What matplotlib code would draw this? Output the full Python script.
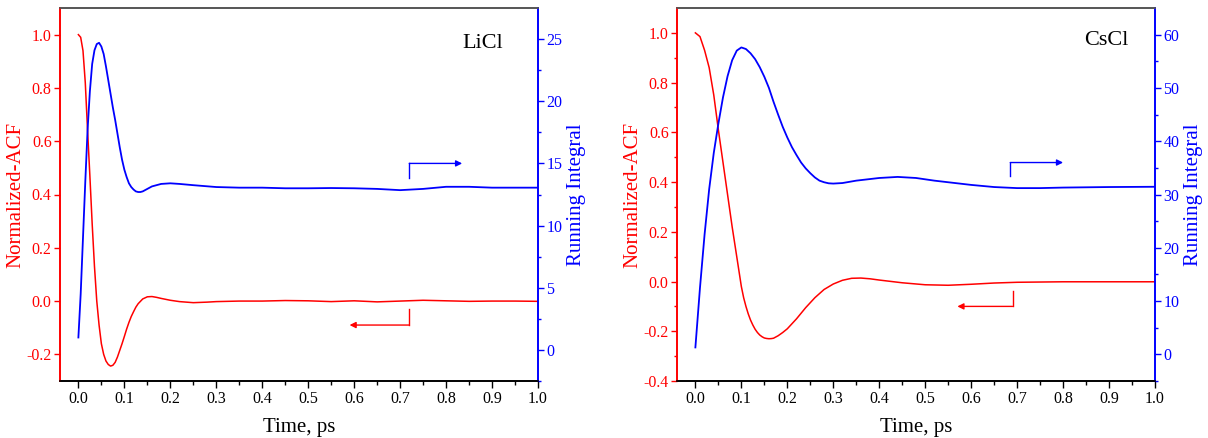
import numpy as np
import matplotlib
matplotlib.use('Agg')
from matplotlib import pyplot as plt

plt.rcParams['font.family'] = ['Liberation Serif', 'DejaVu Serif']

# ---- LiCl data ----
licl_t_acf = [0.000, 0.005, 0.010, 0.015, 0.020, 0.025, 0.030, 0.035, 0.040, 0.045,
              0.050, 0.055, 0.060, 0.065, 0.070, 0.075, 0.080, 0.085, 0.090, 0.095,
              0.100, 0.105, 0.110, 0.115, 0.120, 0.125, 0.130, 0.140, 0.150, 0.160,
              0.170, 0.180, 0.200, 0.220, 0.250, 0.280, 0.300, 0.350, 0.400, 0.450,
              0.500, 0.550, 0.600, 0.650, 0.700, 0.750, 0.800, 0.850, 0.900, 0.950,
              1.000]
licl_acf = [1.00, 0.99, 0.94, 0.82, 0.64, 0.47, 0.29, 0.13, 0.00, -0.09,
            -0.16, -0.20, -0.225, -0.238, -0.244, -0.241, -0.230, -0.21, -0.185, -0.16,
            -0.133, -0.105, -0.08, -0.058, -0.04, -0.023, -0.01, 0.008, 0.016, 0.017,
            0.014, 0.010, 0.003, -0.002, -0.006, -0.004, -0.002, 0.000, 0.000, 0.002,
            0.001, -0.002, 0.001, -0.003, 0.000, 0.003, 0.001, -0.001, 0.000, 0.000,
            -0.001]

licl_t_int = [0.000, 0.005, 0.010, 0.015, 0.020, 0.025, 0.030, 0.035, 0.040, 0.045,
              0.050, 0.055, 0.060, 0.065, 0.070, 0.075, 0.080, 0.085, 0.090, 0.095,
              0.100, 0.105, 0.110, 0.115, 0.120, 0.125, 0.130, 0.135, 0.140, 0.150,
              0.160, 0.180, 0.200, 0.220, 0.250, 0.300, 0.350, 0.400, 0.450, 0.500,
              0.550, 0.600, 0.650, 0.700, 0.750, 0.800, 0.850, 0.900, 0.950, 1.000]
licl_int = [1.0, 4.5, 9.0, 13.5, 17.7, 20.8, 23.0, 24.1, 24.6, 24.7,
            24.4, 23.8, 22.8, 21.7, 20.6, 19.5, 18.5, 17.4, 16.3, 15.3,
            14.5, 13.9, 13.4, 13.1, 12.9, 12.75, 12.7, 12.7, 12.75, 12.95,
            13.15, 13.35, 13.4, 13.35, 13.25, 13.1, 13.05, 13.05, 13.0, 13.0,
            13.02, 13.0, 12.95, 12.85, 12.95, 13.12, 13.12, 13.05, 13.05, 13.05]

# ---- CsCl data ----
cscl_t_acf = [0.000, 0.010, 0.020, 0.030, 0.040, 0.050, 0.060, 0.070, 0.080, 0.090,
              0.095, 0.100, 0.105, 0.110, 0.115, 0.120, 0.125, 0.130, 0.135, 0.140,
              0.145, 0.150, 0.155, 0.160, 0.165, 0.170, 0.180, 0.190, 0.200, 0.220,
              0.240, 0.260, 0.280, 0.300, 0.320, 0.340, 0.360, 0.380, 0.400, 0.450,
              0.500, 0.550, 0.600, 0.650, 0.700, 0.800, 0.900, 1.000]
cscl_acf = [1.00, 0.985, 0.93, 0.86, 0.75, 0.61, 0.48, 0.35, 0.22, 0.10,
            0.04, -0.02, -0.065, -0.10, -0.13, -0.155, -0.175, -0.192, -0.205, -0.215,
            -0.222, -0.227, -0.229, -0.23, -0.2295, -0.228, -0.218, -0.205, -0.19, -0.15,
            -0.105, -0.065, -0.032, -0.01, 0.005, 0.013, 0.014, 0.011, 0.006, -0.005,
            -0.013, -0.015, -0.011, -0.006, -0.003, -0.001, -0.001, -0.001]

cscl_t_int = [0.000, 0.010, 0.020, 0.030, 0.040, 0.050, 0.060, 0.070, 0.080, 0.090,
              0.100, 0.110, 0.120, 0.130, 0.140, 0.150, 0.160, 0.170, 0.180, 0.190,
              0.200, 0.210, 0.220, 0.230, 0.240, 0.250, 0.260, 0.270, 0.280, 0.290,
              0.300, 0.320, 0.350, 0.400, 0.440, 0.480, 0.520, 0.560, 0.600, 0.650,
              0.700, 0.750, 0.800, 0.900, 1.000]
cscl_int = [1.3, 12.5, 22.5, 31.0, 37.8, 43.3, 48.2, 52.2, 55.2, 57.0,
            57.6, 57.3, 56.5, 55.4, 53.9, 52.1, 50.0, 47.4, 45.0, 42.7,
            40.7, 38.9, 37.4, 36.0, 34.9, 34.0, 33.2, 32.6, 32.3, 32.1,
            32.05, 32.15, 32.6, 33.1, 33.3, 33.1, 32.6, 32.2, 31.8, 31.4,
            31.2, 31.2, 31.3, 31.4, 31.45]

# pointer arrows: (x, y_start, y_corner, x_end)
licl_red_arrow = (0.72, -0.03, -0.09, 0.59)
licl_blue_arrow = (0.72, 13.8, 15.0, 0.835)
cscl_red_arrow = (0.69, -0.04, -0.10, 0.57)
cscl_blue_arrow = (0.685, 33.5, 36.0, 0.80)

panels = [
    dict(name='LiCl', t1=licl_t_acf, y1=licl_acf, t2=licl_t_int, y2=licl_int,
         ylim1=(-0.3, 1.1), yticks1=np.arange(-0.2, 1.01, 0.2),
         ylim2=(-2.5, 27.5), yticks2=np.arange(0, 26, 5), minor2=2.5,
         ra=licl_red_arrow, ba=licl_blue_arrow, txt=(0.885, 0.905),
         rect=[60 / 1208, 57 / 438, 478 / 1208, 373 / 438]),
    dict(name='CsCl', t1=cscl_t_acf, y1=cscl_acf, t2=cscl_t_int, y2=cscl_int,
         ylim1=(-0.4, 1.1), yticks1=np.arange(-0.4, 1.01, 0.2),
         ylim2=(-5, 65), yticks2=np.arange(0, 61, 10), minor2=5,
         ra=cscl_red_arrow, ba=cscl_blue_arrow, txt=(0.899, 0.914),
         rect=[677 / 1208, 57 / 438, 478 / 1208, 373 / 438]),
]

fig = plt.figure(figsize=(12.08, 4.38), dpi=100)

for p in panels:
    ax = fig.add_axes(p['rect'])
    ax2 = ax.twinx()

    ax.plot(p['t1'], p['y1'], color='red', lw=1.1)
    ax2.plot(p['t2'], p['y2'], color='blue', lw=1.3)

    ax.set_xlim(-0.04, 1.0)
    ax.set_ylim(*p['ylim1'])
    ax2.set_ylim(*p['ylim2'])

    ax.set_xticks(np.arange(0, 1.01, 0.1))
    ax.set_xticks(np.arange(0.05, 1.0, 0.1), minor=True)
    ax.set_xticklabels(['%.1f' % v for v in np.arange(0, 1.01, 0.1)])
    ax.set_yticks(p['yticks1'])
    ax.set_yticks(np.arange(p['ylim1'][0] + 0.1, 1.1, 0.2), minor=True)
    ax.set_yticklabels(['%.1f' % (v + 0.0) for v in p['yticks1']])
    ax2.set_yticks(p['yticks2'])
    ax2.set_yticks(np.arange(p['yticks2'][0] - p['minor2'], p['ylim2'][1], 2 * p['minor2']), minor=True)

    ax.tick_params(axis='x', which='major', direction='out', length=5, width=1,
                   pad=2.5, labelsize=11.5, colors='black')
    ax.tick_params(axis='x', which='minor', direction='out', length=3, width=1)
    ax.tick_params(axis='y', which='major', direction='out', length=4, width=1,
                   pad=2, labelsize=11.5, colors='red')
    ax.tick_params(axis='y', which='minor', direction='out', length=2.5, width=1,
                   colors='red')
    ax2.tick_params(axis='y', which='major', direction='out', length=4, width=1,
                    pad=2, labelsize=11.5, colors='blue')
    ax2.tick_params(axis='y', which='minor', direction='out', length=2.5, width=1,
                    colors='blue')

    for a in (ax, ax2):
        a.spines['left'].set_color('red')
        a.spines['right'].set_color('blue')
        a.spines['top'].set_color('#555555')
        a.spines['bottom'].set_color('black')
        for s in a.spines.values():
            s.set_linewidth(1.2)

    ax.set_xlabel('Time, ps', fontsize=15, labelpad=7.5)
    ax.set_ylabel('Normalized-ACF', fontsize=15, color='red', labelpad=1)
    ax2.set_ylabel('Running Integral', fontsize=15, color='blue', labelpad=3)

    ax.text(p['txt'][0], p['txt'][1], p['name'], transform=ax.transAxes,
            fontsize=16, ha='center', va='center')

    # arrows pointing to each axis
    x0, ys, yc, xe = p['ra']
    ax.plot([x0, x0], [ys, yc], color='red', lw=1)
    ax.annotate('', xy=(xe, yc), xytext=(x0, yc),
                arrowprops=dict(arrowstyle='-|>', color='red', lw=1,
                                mutation_scale=9, shrinkA=0, shrinkB=0))
    x0, ys, yc, xe = p['ba']
    ax2.plot([x0, x0], [ys, yc], color='blue', lw=1)
    ax2.annotate('', xy=(xe, yc), xytext=(x0, yc),
                 arrowprops=dict(arrowstyle='-|>', color='blue', lw=1,
                                 mutation_scale=9, shrinkA=0, shrinkB=0))

plt.savefig('out.png', dpi=100)
